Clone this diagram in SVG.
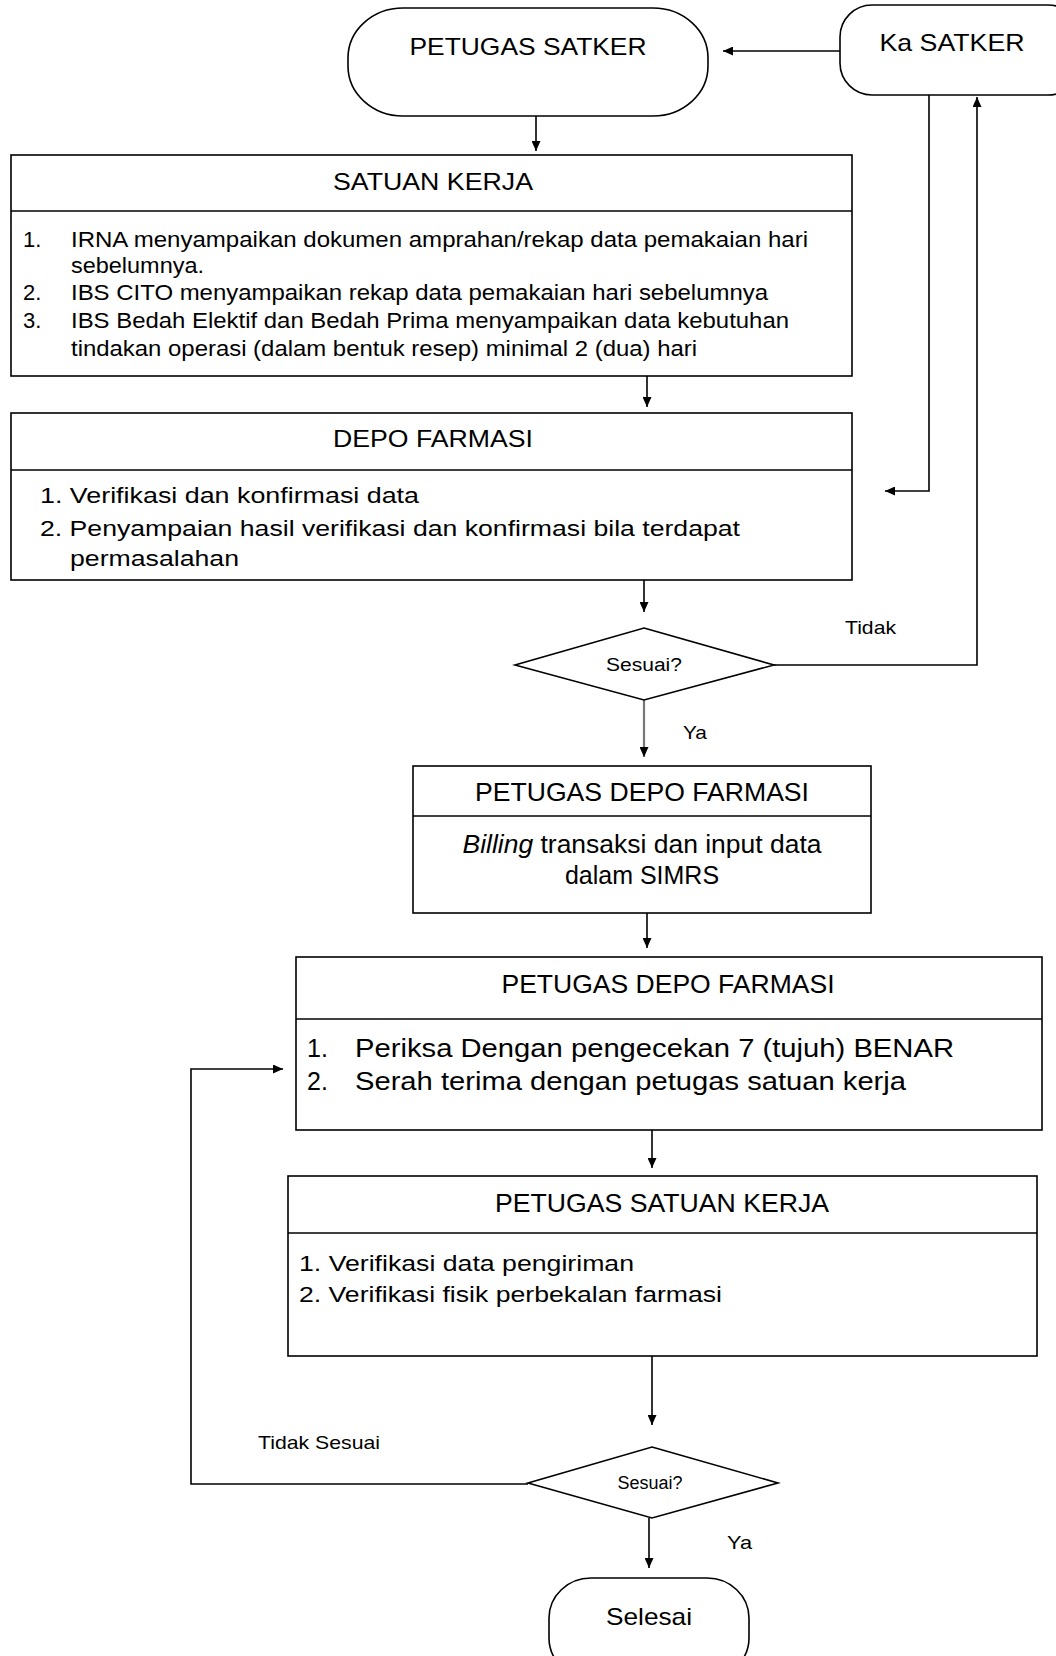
<svg xmlns="http://www.w3.org/2000/svg" width="1056" height="1656" viewBox="0 0 1056 1656">
<style>
.box{fill:#fff;stroke:#000;stroke-width:1.6}
.div{stroke:#000;stroke-width:1.6}
.con{fill:none;stroke:#000;stroke-width:1.6}
.t{font-family:"Liberation Sans",Arial,sans-serif;fill:#000}
.h{font-size:24px;text-anchor:middle}
.h2{font-size:25px;text-anchor:middle}
.b{font-size:22px}
.b2{font-size:25px}
.s{font-size:19px}
.d{font-size:18px;text-anchor:middle}
</style>
<defs>
<marker id="ah" markerWidth="10" markerHeight="9" refX="10" refY="4.5" orient="auto" markerUnits="userSpaceOnUse">
<path d="M0,0 L10,4.5 L0,9 z" fill="#000"/>
</marker>
</defs>
<rect width="1056" height="1656" fill="#fff"/>

<g id="connectors">
<line class="con" x1="840" y1="51" x2="723" y2="51" marker-end="url(#ah)"/>
<line class="con" x1="536" y1="116" x2="536" y2="151" marker-end="url(#ah)"/>
<polyline class="con" points="929,95 929,491 885,491" marker-end="url(#ah)"/>
<line class="con" x1="647" y1="376" x2="647" y2="407" marker-end="url(#ah)"/>
<line class="con" x1="644" y1="580" x2="644" y2="612" marker-end="url(#ah)"/>
<polyline class="con" points="774,665 977,665 977,97" marker-end="url(#ah)"/>
<line class="con" x1="644" y1="700" x2="644" y2="757" marker-end="url(#ah)" style="stroke:#777;stroke-width:2.2"/>
<line class="con" x1="647" y1="913" x2="647" y2="948" marker-end="url(#ah)"/>
<line class="con" x1="652" y1="1130" x2="652" y2="1168" marker-end="url(#ah)"/>
<line class="con" x1="652" y1="1356" x2="652" y2="1425" marker-end="url(#ah)"/>
<polyline class="con" points="528,1484 191,1484 191,1069 283,1069" marker-end="url(#ah)"/>
<line class="con" x1="649" y1="1518" x2="649" y2="1568" marker-end="url(#ah)"/>
<text class="t s" x="845" y="634" textLength="51" lengthAdjust="spacingAndGlyphs">Tidak</text>
<text class="t s" x="683" y="739" textLength="24" lengthAdjust="spacingAndGlyphs">Ya</text>
<text class="t s" x="258" y="1449" textLength="122" lengthAdjust="spacingAndGlyphs">Tidak Sesuai</text>
<text class="t s" x="727" y="1549" textLength="25" lengthAdjust="spacingAndGlyphs">Ya</text>
</g>

<g id="petugas-satker">
<rect class="box" x="348" y="8" width="360" height="108" rx="55" ry="50"/>
<text class="t h" x="528" y="55" textLength="237" lengthAdjust="spacingAndGlyphs">PETUGAS SATKER</text>
</g>

<g id="ka-satker">
<rect class="box" x="840" y="5" width="240" height="90" rx="32" ry="32"/>
<text class="t h" x="952" y="51" textLength="145" lengthAdjust="spacingAndGlyphs">Ka SATKER</text>
</g>

<g id="satuan-kerja">
<rect class="box" x="11" y="155" width="841" height="221"/>
<line class="div" x1="11" y1="211" x2="852" y2="211"/>
<text class="t h" x="433" y="190" textLength="200" lengthAdjust="spacingAndGlyphs">SATUAN KERJA</text>
<text class="t b" x="23" y="247">1.</text>
<text class="t b" x="71" y="247" textLength="737" lengthAdjust="spacingAndGlyphs">IRNA menyampaikan dokumen amprahan/rekap data pemakaian hari</text>
<text class="t b" x="71" y="273" textLength="133" lengthAdjust="spacingAndGlyphs">sebelumnya.</text>
<text class="t b" x="23" y="300">2.</text>
<text class="t b" x="71" y="300" textLength="697" lengthAdjust="spacingAndGlyphs">IBS CITO menyampaikan rekap data pemakaian hari sebelumnya</text>
<text class="t b" x="23" y="328">3.</text>
<text class="t b" x="71" y="328" textLength="718" lengthAdjust="spacingAndGlyphs">IBS Bedah Elektif dan Bedah Prima menyampaikan data kebutuhan</text>
<text class="t b" x="71" y="356" textLength="626" lengthAdjust="spacingAndGlyphs">tindakan operasi (dalam bentuk resep) minimal 2 (dua) hari</text>
</g>

<g id="depo-farmasi">
<rect class="box" x="11" y="413" width="841" height="167"/>
<line class="div" x1="11" y1="470" x2="852" y2="470"/>
<text class="t h" x="433" y="447" textLength="200" lengthAdjust="spacingAndGlyphs">DEPO FARMASI</text>
<text class="t b" x="40" y="503" textLength="379" lengthAdjust="spacingAndGlyphs">1. Verifikasi dan konfirmasi data</text>
<text class="t b" x="40" y="536" textLength="700" lengthAdjust="spacingAndGlyphs">2. Penyampaian hasil verifikasi dan konfirmasi bila terdapat</text>
<text class="t b" x="70" y="566" textLength="169" lengthAdjust="spacingAndGlyphs">permasalahan</text>
</g>

<g id="sesuai-1">
<polygon class="box" points="644,628 774,665 644,700 515,665"/>
<text class="t d" x="644" y="671" fill="#333" textLength="76" lengthAdjust="spacingAndGlyphs">Sesuai?</text>
</g>

<g id="petugas-depo-farmasi-1">
<rect class="box" x="413" y="766" width="458" height="147"/>
<line class="div" x1="413" y1="816" x2="871" y2="816"/>
<text class="t h2" x="642" y="801" textLength="334" lengthAdjust="spacingAndGlyphs">PETUGAS DEPO FARMASI</text>
<text class="t b2" x="642" y="853" text-anchor="middle" textLength="359" lengthAdjust="spacingAndGlyphs"><tspan font-style="italic">Billing</tspan> transaksi dan input data</text>
<text class="t b2" x="642" y="884" text-anchor="middle">dalam SIMRS</text>
</g>

<g id="petugas-depo-farmasi-2">
<rect class="box" x="296" y="957" width="746" height="173"/>
<line class="div" x1="296" y1="1019" x2="1042" y2="1019"/>
<text class="t h2" x="668" y="993" textLength="333" lengthAdjust="spacingAndGlyphs">PETUGAS DEPO FARMASI</text>
<text class="t b2" x="307" y="1057">1.</text>
<text class="t b2" x="355" y="1057" textLength="599" lengthAdjust="spacingAndGlyphs">Periksa Dengan pengecekan 7 (tujuh) BENAR</text>
<text class="t b2" x="307" y="1090">2.</text>
<text class="t b2" x="355" y="1090" textLength="551" lengthAdjust="spacingAndGlyphs">Serah terima dengan petugas satuan kerja</text>
</g>

<g id="petugas-satuan-kerja">
<rect class="box" x="288" y="1176" width="749" height="180"/>
<line class="div" x1="288" y1="1233" x2="1037" y2="1233"/>
<text class="t h2" x="662" y="1212" textLength="334" lengthAdjust="spacingAndGlyphs">PETUGAS SATUAN KERJA</text>
<text class="t b" x="299" y="1271" textLength="335" lengthAdjust="spacingAndGlyphs">1. Verifikasi data pengiriman</text>
<text class="t b" x="299" y="1302" textLength="423" lengthAdjust="spacingAndGlyphs">2. Verifikasi fisik perbekalan farmasi</text>
</g>

<g id="sesuai-2">
<polygon class="box" points="652,1447 778,1483 652,1518 528,1483"/>
<text class="t d" x="650" y="1489" textLength="65" lengthAdjust="spacingAndGlyphs">Sesuai?</text>
</g>

<g id="selesai">
<rect class="box" x="549" y="1578" width="200" height="100" rx="42" ry="40"/>
<text class="t h" x="649" y="1625" font-size="26" textLength="86" lengthAdjust="spacingAndGlyphs">Selesai</text>
</g>
</svg>
